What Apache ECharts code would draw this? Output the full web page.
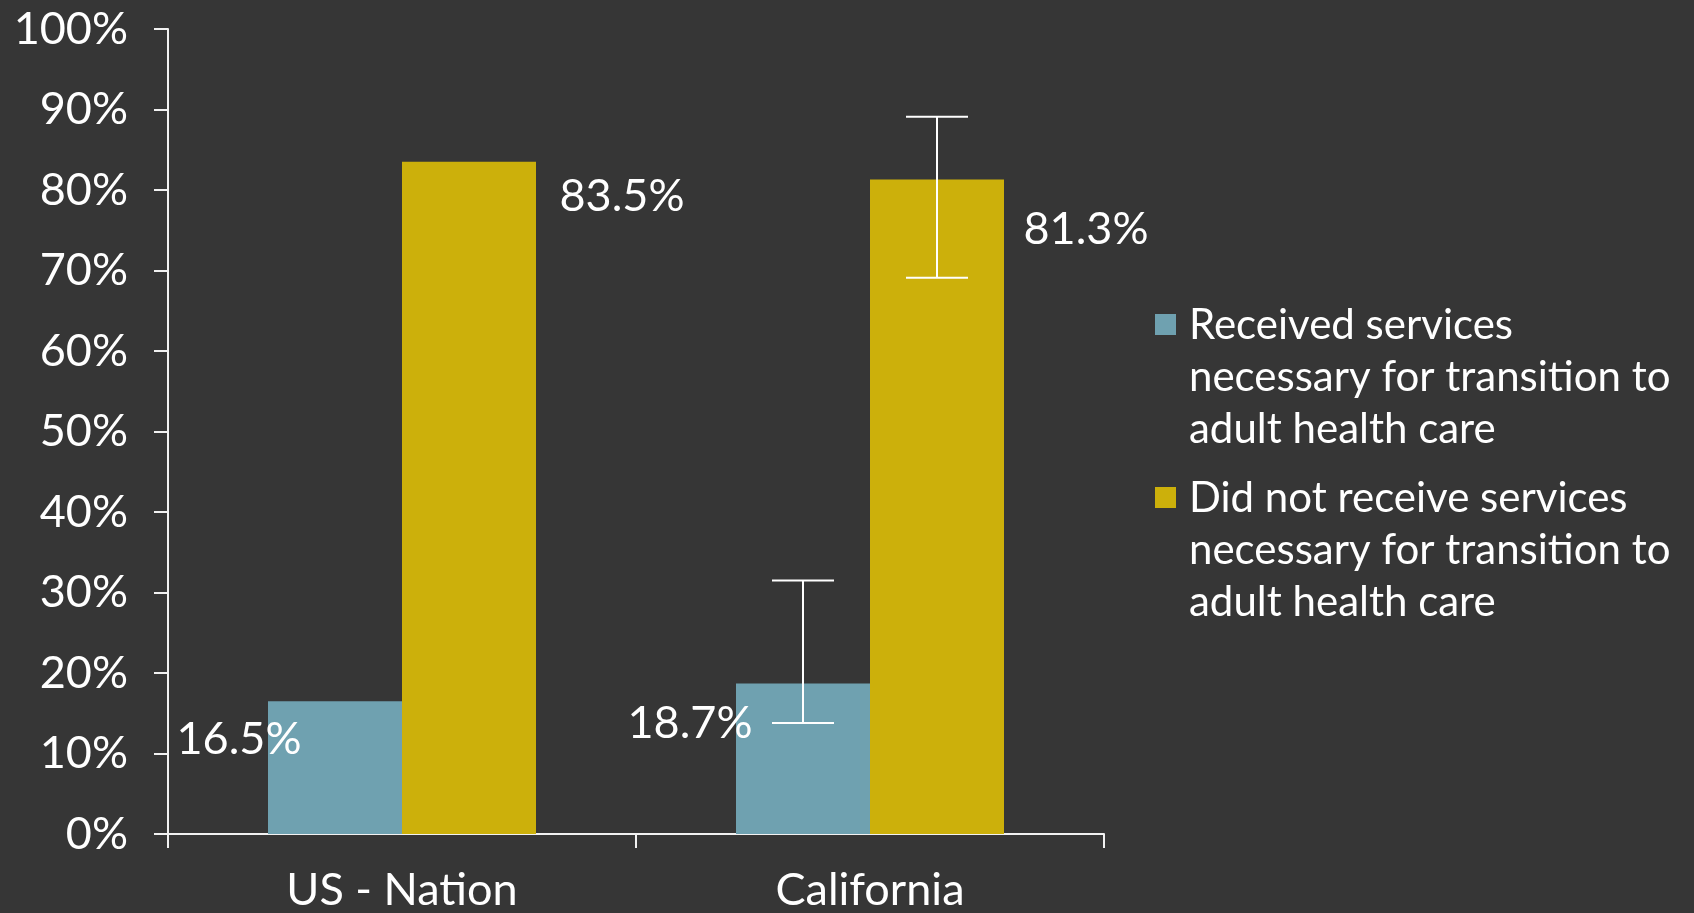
<!DOCTYPE html>
<html>
<head>
<meta charset="utf-8">
<script src="https://cdn.jsdelivr.net/npm/echarts@6/dist/echarts.min.js"></script>
<style>
  html, body { margin: 0; padding: 0; background: #363636; }
</style>
</head>
<body>
<div id="main" style="width: 1694px;height:913px;"></div>
<script type="text/javascript">
    // data
    var categories = ['US - Nation', 'California'];
    var seriesNames = [
        'Received services\nnecessary for transition to\nadult health care',
        'Did not receive services\nnecessary for transition to\nadult health care'
    ];
    var received = [16.5, 18.7];
    var notReceived = [83.5, 81.3];
    // error bars (only California has them)
    var receivedErrLow = [null, 13.8];
    var receivedErrHigh = [null, 31.5];
    var notReceivedErrLow = [null, 69.1];
    var notReceivedErrHigh = [null, 89.1];
    // y axis ticks
    var yMin = 0, yMax = 100, yStep = 10;

    var FONT = 'Lato';
    var BAR_W = 134;
    var CAP_HALF = 31;

    // hand-placed label spots (px from bar top-left), like in the original
    var receivedLabelPos = [[-29, 38], [-46, 40]];
    var notReceivedLabelPos = [[220, 35], [216, 50]];

    function barData(values, pos) {
        return values.map(function (v, i) {
            return { value: v, label: { position: pos[i] } };
        });
    }

    function errData(low, high, side) {
        var out = [];
        for (var i = 0; i < low.length; i++) {
            if (low[i] != null) out.push([i, low[i], high[i], side]);
        }
        return out;
    }

    function renderErr(params, api) {
        var lo = api.coord([api.value(0), api.value(1)]);
        var hi = api.coord([api.value(0), api.value(2)]);
        var cx = lo[0] + api.value(3) * BAR_W / 2;
        var st = { stroke: '#ffffff', lineWidth: 2 };
        return {
            type: 'group',
            children: [
                { type: 'line', shape: { x1: cx, y1: hi[1], x2: cx, y2: lo[1] }, style: st },
                { type: 'line', shape: { x1: cx - CAP_HALF, y1: hi[1], x2: cx + CAP_HALF, y2: hi[1] }, style: st },
                { type: 'line', shape: { x1: cx - CAP_HALF, y1: lo[1], x2: cx + CAP_HALF, y2: lo[1] }, style: st }
            ]
        };
    }

    var labelStyle = {
        show: true,
        color: '#ffffff',
        fontFamily: FONT,
        fontSize: 45,
        align: 'center',
        verticalAlign: 'middle',
        formatter: function (p) { return p.value.toFixed(1) + '%'; }
    };

    // square sits at the first text line, the rest of the box is empty
    var legendIcon = 'path://M0,15L21,15L21,36L0,36Z M0,0L0,0 M29,156L29,156';

    var myChart = echarts.init(document.getElementById('main'));

    var option = {
        backgroundColor: '#363636',
        animation: false,
        textStyle: { fontFamily: FONT },
        grid: { left: 168, right: 590, top: 29, bottom: 78, containLabel: false },
        legend: {
            data: seriesNames,
            orient: 'vertical',
            left: 1150,
            top: 294,
            icon: legendIcon,
            itemWidth: 29,
            itemHeight: 156,
            itemGap: 17,
            selectedMode: false,
            textStyle: { color: '#ffffff', fontFamily: FONT, fontSize: 42, lineHeight: 52 }
        },
        xAxis: {
            type: 'category',
            data: categories,
            axisLine: { lineStyle: { color: '#f2f2f2', width: 2 } },
            axisTick: { show: true, length: 14, interval: 0, lineStyle: { color: '#f2f2f2', width: 2 } },
            axisLabel: { color: '#ffffff', fontFamily: FONT, fontSize: 45, margin: 34 }
        },
        yAxis: {
            type: 'value',
            min: yMin,
            max: yMax,
            interval: yStep,
            splitLine: { show: false },
            axisLine: { show: true, lineStyle: { color: '#f2f2f2', width: 2 } },
            axisTick: { show: true, length: 14, lineStyle: { color: '#f2f2f2', width: 2 } },
            axisLabel: { color: '#ffffff', fontFamily: FONT, fontSize: 45, margin: 40, formatter: '{value}%' }
        },
        series: [
            {
                name: seriesNames[0],
                type: 'bar',
                barWidth: BAR_W,
                barGap: 0,
                itemStyle: { color: '#6FA1B0' },
                label: labelStyle,
                data: barData(received, receivedLabelPos)
            },
            {
                name: seriesNames[1],
                type: 'bar',
                barWidth: BAR_W,
                barGap: 0,
                itemStyle: { color: '#CCB00B' },
                label: labelStyle,
                data: barData(notReceived, notReceivedLabelPos)
            },
            {
                type: 'custom',
                name: 'err1',
                z: 5,
                renderItem: renderErr,
                encode: { x: 0, y: [1, 2] },
                data: errData(receivedErrLow, receivedErrHigh, -1)
            },
            {
                type: 'custom',
                name: 'err2',
                z: 5,
                renderItem: renderErr,
                encode: { x: 0, y: [1, 2] },
                data: errData(notReceivedErrLow, notReceivedErrHigh, 1)
            }
        ]
    };

    myChart.setOption(option);
</script>
</body>
</html>
